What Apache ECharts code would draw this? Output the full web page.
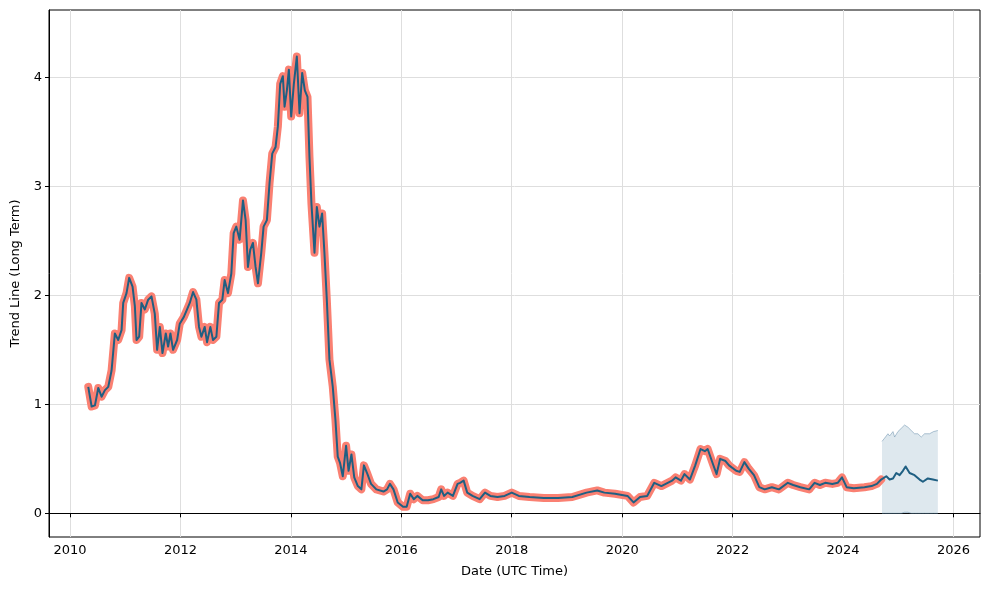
<!DOCTYPE html>
<html>
<head>
<meta charset="utf-8">
<script src="https://cdn.jsdelivr.net/npm/echarts@6/dist/echarts.min.js"></script>
<style>html,body{margin:0;padding:0;background:#fff}#c{width:989px;height:590px}</style>
</head>
<body>
<div id="c"></div>
<script>
// Historical trend (decimal years)
const histDates = [2010.331,2010.392,2010.452,2010.512,2010.572,2010.633,2010.693,2010.753,2010.813,2010.873,2010.934,2010.964,2011.024,2011.072,2011.133,2011.175,2011.205,2011.253,2011.295,2011.355,2011.416,2011.476,2011.536,2011.578,2011.627,2011.675,2011.735,2011.777,2011.819,2011.867,2011.940,2011.988,2012.060,2012.120,2012.169,2012.229,2012.289,2012.337,2012.380,2012.440,2012.482,2012.542,2012.590,2012.651,2012.699,2012.759,2012.801,2012.861,2012.922,2012.964,2013.012,2013.072,2013.133,2013.181,2013.223,2013.265,2013.313,2013.361,2013.404,2013.464,2013.506,2013.566,2013.614,2013.663,2013.723,2013.765,2013.807,2013.855,2013.886,2013.928,2013.964,2014.006,2014.054,2014.108,2014.157,2014.205,2014.253,2014.301,2014.337,2014.373,2014.428,2014.470,2014.518,2014.566,2014.608,2014.651,2014.699,2014.759,2014.807,2014.849,2014.892,2014.940,2015.000,2015.045,2015.097,2015.148,2015.213,2015.277,2015.323,2015.387,2015.452,2015.548,2015.677,2015.742,2015.794,2015.858,2015.935,2016.032,2016.097,2016.161,2016.226,2016.290,2016.387,2016.484,2016.581,2016.677,2016.723,2016.774,2016.839,2016.935,2017.019,2017.065,2017.129,2017.194,2017.290,2017.419,2017.516,2017.613,2017.742,2017.871,2018.000,2018.129,2018.323,2018.581,2018.839,2019.097,2019.355,2019.548,2019.677,2019.871,2020.097,2020.206,2020.323,2020.452,2020.581,2020.710,2020.903,2020.968,2021.065,2021.129,2021.226,2021.323,2021.419,2021.497,2021.548,2021.645,2021.710,2021.774,2021.871,2021.935,2022.065,2022.129,2022.213,2022.290,2022.387,2022.484,2022.581,2022.710,2022.839,2023.000,2023.097,2023.226,2023.387,2023.484,2023.581,2023.677,2023.806,2023.903,2023.981,2024.065,2024.194,2024.387,2024.516,2024.613,2024.690];
const histVals = [1.16,0.98,0.99,1.15,1.07,1.13,1.16,1.31,1.65,1.59,1.68,1.93,2.02,2.16,2.08,1.90,1.59,1.62,1.93,1.87,1.96,1.99,1.83,1.50,1.71,1.47,1.65,1.53,1.65,1.50,1.59,1.74,1.80,1.87,1.93,2.03,1.96,1.71,1.62,1.71,1.57,1.71,1.59,1.62,1.93,1.96,2.14,2.02,2.20,2.57,2.63,2.51,2.87,2.69,2.26,2.42,2.48,2.26,2.11,2.39,2.63,2.69,3.03,3.30,3.36,3.55,3.94,4.01,3.73,3.88,4.07,3.64,3.94,4.19,3.67,4.04,3.88,3.82,3.27,2.84,2.39,2.81,2.63,2.75,2.39,1.96,1.41,1.16,0.86,0.52,0.46,0.34,0.62,0.39,0.54,0.33,0.25,0.22,0.44,0.36,0.27,0.22,0.20,0.22,0.27,0.22,0.10,0.06,0.06,0.18,0.13,0.16,0.12,0.12,0.13,0.15,0.22,0.16,0.19,0.16,0.27,0.28,0.30,0.19,0.16,0.13,0.19,0.16,0.15,0.16,0.19,0.16,0.15,0.14,0.14,0.15,0.19,0.21,0.19,0.18,0.16,0.10,0.15,0.16,0.28,0.25,0.30,0.33,0.30,0.36,0.31,0.44,0.59,0.57,0.59,0.45,0.36,0.50,0.48,0.44,0.39,0.38,0.47,0.41,0.35,0.24,0.22,0.24,0.22,0.28,0.26,0.24,0.22,0.28,0.26,0.28,0.27,0.28,0.33,0.24,0.23,0.24,0.25,0.27,0.31];

// Forecast trend
const fcDates = [2024.705,2024.783,2024.843,2024.904,2024.964,2025.024,2025.084,2025.133,2025.205,2025.295,2025.386,2025.446,2025.536,2025.627,2025.717];
const fcVals  = [0.31,0.34,0.31,0.32,0.37,0.35,0.39,0.43,0.37,0.35,0.31,0.29,0.32,0.31,0.30];

// Forecast confidence band
const bandDates = [2024.705,2024.753,2024.813,2024.843,2024.904,2024.934,2024.994,2025.054,2025.114,2025.133,2025.175,2025.235,2025.295,2025.355,2025.416,2025.476,2025.566,2025.639,2025.717];
const bandUpper = [0.66,0.69,0.73,0.71,0.75,0.70,0.75,0.78,0.81,0.80,0.79,0.76,0.73,0.73,0.70,0.73,0.73,0.75,0.76];
const bandLower = [0.00,0.00,0.00,0.00,0.00,0.00,0.00,0.00,0.01,0.02,0.01,0.00,0.00,0.00,0.00,0.00,0.00,0.00,0.00];

const xTicks = [2010,2012,2014,2016,2018,2020,2022,2024,2026];
const yTicks = [0,1,2,3,4];

const pairs = (xs, ys) => xs.map((x, i) => [x, ys[i]]);
const blueLine = pairs(histDates, histVals).concat(pairs(fcDates, fcVals));

const chart = echarts.init(document.getElementById('c'), null, {renderer: 'canvas'});
const font = 'DejaVu Sans';
chart.setOption({
  animation: false,
  backgroundColor: '#fff',
  grid: {left: 49, right: 9, top: 10, bottom: 53, show: true, borderColor: '#000', borderWidth: 1, backgroundColor: 'transparent'},
  xAxis: {
    type: 'value', min: 2009.62, max: 2026.48,
    name: 'Date (UTC Time)', nameLocation: 'middle', nameGap: 28,
    nameTextStyle: {fontFamily: font, fontSize: 13, color: '#000'},
    axisLine: {show: true, lineStyle: {color: '#000', width: 1}},
    axisTick: {show: true, length: 4, customValues: xTicks, lineStyle: {color: '#000'}},
    axisLabel: {customValues: xTicks, fontFamily: font, fontSize: 13, color: '#000', margin: 7, formatter: v => String(v)},
    splitLine: {show: true, lineStyle: {color: '#dedede', width: 1}}
  },
  yAxis: {
    type: 'value', min: -0.217, max: 4.617,
    name: 'Trend Line (Long Term)', nameLocation: 'middle', nameGap: 27, nameRotate: 90,
    nameTextStyle: {fontFamily: font, fontSize: 13, color: '#000'},
    axisLine: {show: true, lineStyle: {color: '#000', width: 1}},
    axisTick: {show: true, length: 4, customValues: yTicks, lineStyle: {color: '#000'}},
    axisLabel: {customValues: yTicks, fontFamily: font, fontSize: 13, color: '#000', margin: 7, formatter: v => String(v)},
    splitLine: {show: true, lineStyle: {color: '#dedede', width: 1}}
  },
  series: [
    {type: 'line', name: 'bandUpper', data: pairs(bandDates, bandUpper), symbol: 'none',
     lineStyle: {width: 1, color: 'rgba(100,140,170,0.5)'},
     areaStyle: {color: 'rgba(100,145,175,0.3)', origin: 'auto'}, z: 1, silent: true},
    {type: 'line', name: 'bandLower', data: pairs(bandDates, bandLower), symbol: 'none',
     lineStyle: {width: 1, color: 'rgba(100,140,170,0.5)'}, z: 1, silent: true},
    {type: 'line', name: 'hist', data: pairs(histDates, histVals), symbol: 'none',
     lineStyle: {width: 8, color: '#fa8072', cap: 'round', join: 'round'}, z: 2, silent: true},
    {type: 'line', name: 'trend', data: blueLine, symbol: 'none',
     lineStyle: {width: 2, color: '#1f5f82', join: 'round'}, z: 3, silent: true}
  ]
});
</script>
</body>
</html>
